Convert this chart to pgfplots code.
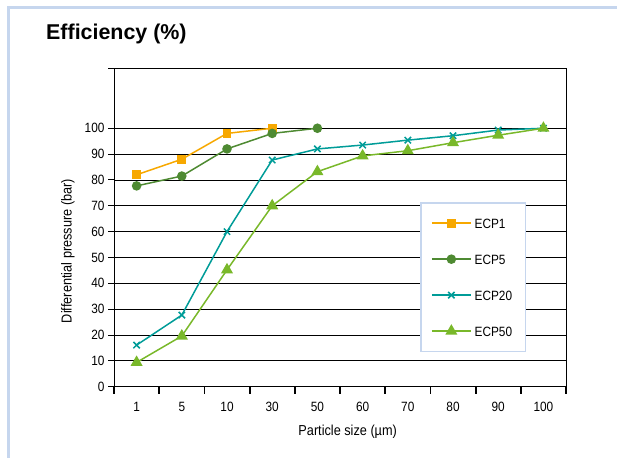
\documentclass[border=0pt]{standalone}
\usepackage{fontspec}
\setmainfont{Liberation Sans}
\newfontfamily\condfont[FakeStretch=0.88]{Liberation Sans}
\usepackage{pgfplots}
\pgfplotsset{compat=1.18}

\definecolor{ecpone}{HTML}{F7A800}
\definecolor{ecpfive}{HTML}{4E8A32}
\definecolor{ecptwenty}{HTML}{009C98}
\definecolor{ecpfifty}{HTML}{79B82A}
\definecolor{framecol}{HTML}{C6D6EE}

\begin{document}
\begin{tikzpicture}[x=1bp,y=1bp]
\path[use as bounding box] (0,0) rectangle (617,458);
\draw[framecol, line width=3bp] (8,0) -- (8,450) -- (617,450);
\node[anchor=base west, inner sep=0, font=\bfseries\fontsize{21.5}{24}\selectfont] at (46,418.7) {Efficiency (\%)};

\begin{axis}[
  at={(114bp,71.3bp)}, anchor=south west,
  scale only axis, width=452bp, height=318.4bp,
  xmin=-0.5, xmax=9.5, ymin=0, ymax=123.2,
  xtick={0,...,9},
  xticklabels={1,5,10,30,50,60,70,80,90,100},
  minor xtick={-0.5,0.5,...,9.5},
  ytick={0,10,...,100},
  extra y ticks={123.2}, extra y tick labels={},
  extra y tick style={grid=none},
  xtick pos=bottom, ytick pos=left,
  tick align=outside,
  major tick length=6bp, minor tick length=7bp,
  major x tick style={draw=none},
  minor x tick style={black, line width=1.8bp},
  major y tick style={black, line width=1bp},
  ymajorgrids,
  major grid style={black, line width=0.8bp},
  axis line style={black, line width=0.9bp},
  /pgf/number format/assume math mode=true,
  ticklabel style={font=\condfont\fontsize{13.5}{15}\selectfont},
  xticklabel style={yshift=-6bp},
  xlabel={Particle size (µm)},
  ylabel={Differential pressure (bar)},
  label style={font=\condfont\fontsize{14.5}{16}\selectfont},
  xlabel style={at={(axis description cs:0.517,0)}, anchor=base, yshift=-49bp},
  ylabel style={at={(axis description cs:-0.1018,0.426)}, anchor=center},
  legend style={at={(axis description cs:0.679,0.577)}, anchor=north west,
    name=legbox, draw=none, fill=white,
    inner xsep=10bp, inner ysep=12bp, row sep=20bp,
    font=\condfont\fontsize{13.5}{15}\selectfont,
    nodes={inner sep=3bp, text height=10bp, text depth=0bp}},
  legend cell align=left,
  legend image code/.code={%
    \draw[mark repeat=2, mark phase=2, #1] plot coordinates {(0bp,0bp) (19.5bp,0bp) (39bp,0bp)};},
  every axis plot/.append style={line width=1.5bp},
]
\addplot[color=ecpone, mark=square*, mark size=3.7bp]
  coordinates {(0,82) (1,88) (2,98) (3,100)};
\addlegendentry{ECP1}
\addplot[color=ecpfive, mark=*, mark size=4bp]
  coordinates {(0,77.7) (1,81.5) (2,92) (3,98) (4,100)};
\addlegendentry{ECP5}
\addplot[color=ecptwenty, mark=x, mark size=4.5bp]
  coordinates {(0,16.1) (1,27.7) (2,60) (3,87.7) (4,92) (5,93.5) (6,95.4) (7,97.1) (8,99.3) (9,100)};
\addlegendentry{ECP20}
\addplot[color=ecpfifty, mark=triangle*, mark size=5.5bp]
  coordinates {(0,9.4) (1,19.6) (2,45.2) (3,70) (4,83.2) (5,89.3) (6,91.3) (7,94.4) (8,97.3) (9,100)};
\addlegendentry{ECP50}
\draw[black, line width=2.2bp] (rel axis cs:0,1) -- (rel axis cs:0,0) -- (rel axis cs:1,0);
\end{axis}
\draw[framecol, line width=1.5bp] (legbox.south west) rectangle (legbox.north east);
\end{tikzpicture}
\end{document}
